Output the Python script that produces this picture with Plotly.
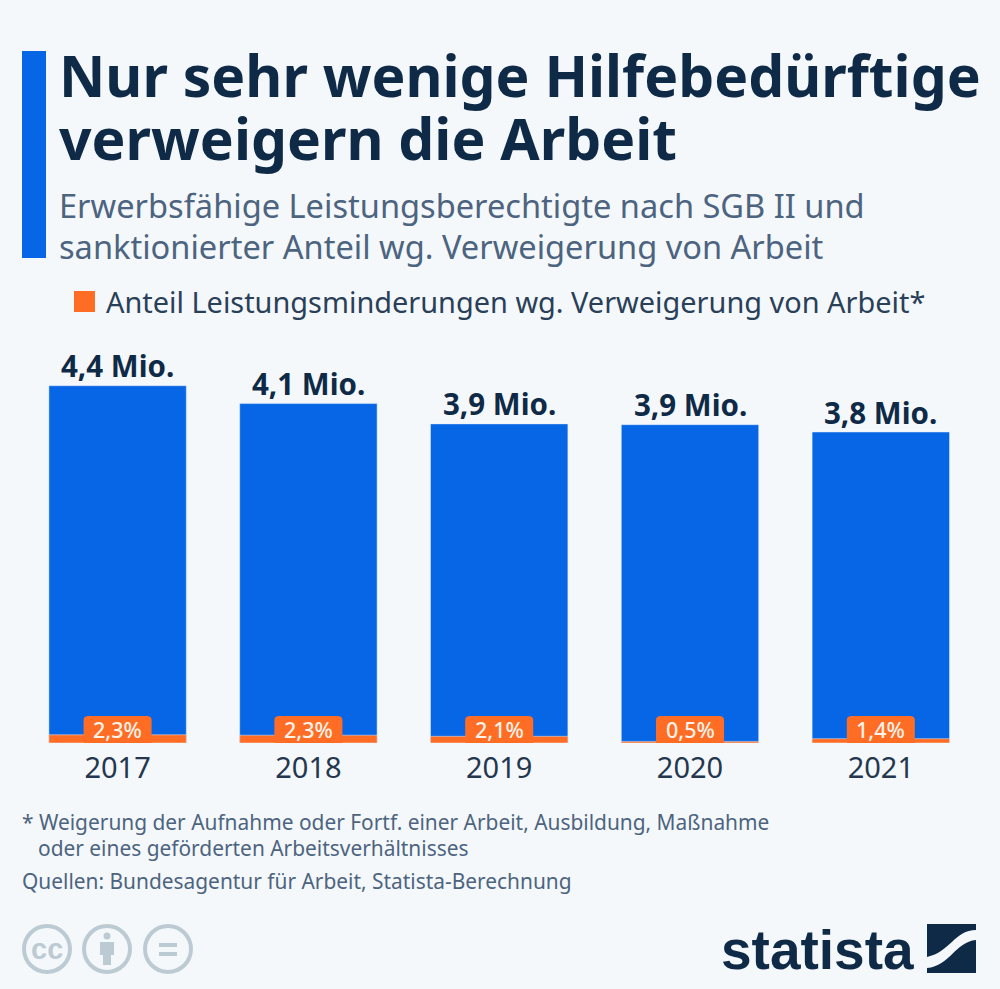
import plotly.graph_objects as go

years = ["2017", "2018", "2019", "2020", "2021"]
totals = [4.40, 4.18, 3.93, 3.92, 3.83]
total_labels = ["4,4 Mio.", "4,1 Mio.", "3,9 Mio.", "3,9 Mio.", "3,8 Mio."]
shares = [2.3, 2.3, 2.1, 0.5, 1.4]
share_labels = ["2,3%", "2,3%", "2,1%", "0,5%", "1,4%"]

W, H = 1000, 989
BG = "#f4f8fb"
BLUE = "#0666e6"
ORANGE = "#ff6d25"
NAVY = "#0f2a47"
SUB = "#4d6480"
GREY = "#bccbd3"
FONT = "Noto Sans"

def px(x):
    return x / W

def py(y):
    return 1 - y / H

sanctioned = [t * s / 100 for t, s in zip(totals, shares)]

fig = go.Figure()
fig.add_bar(x=years, y=totals, marker_color=BLUE, width=0.72, showlegend=False)
fig.add_bar(x=years, y=sanctioned, marker_color=ORANGE, width=0.72, showlegend=False)

shapes = []
annotations = []

def text(x, y, s, size, color, weight="normal", anchor="left", family=FONT):
    pad = 2 if anchor == "left" else 0
    annotations.append(dict(xref="paper", yref="paper", x=px(x - pad), y=py(y), text=s,
                            showarrow=False, xanchor=anchor, yanchor="middle",
                            font=dict(family=family, size=size, color=color, weight=weight)))

def rect(x0, y0, x1, y1, color):
    shapes.append(dict(type="rect", xref="paper", yref="paper", x0=px(x0), x1=px(x1),
                       y0=py(y0), y1=py(y1), fillcolor=color, line_width=0))

def circle(cx, cy, r, line, fill="rgba(0,0,0,0)", lw=4):
    shapes.append(dict(type="circle", xref="paper", yref="paper", x0=px(cx - r), x1=px(cx + r),
                       y0=py(cy + r), y1=py(cy - r), fillcolor=fill,
                       line=dict(color=line, width=lw)))

# Value labels above each bar
for i, (total, lab) in enumerate(zip(totals, total_labels)):
    annotations.append(dict(x=i, y=total, xref="x", yref="y", yshift=20, text=lab, showarrow=False,
                            yanchor="middle",
                            font=dict(family=FONT, size=29.5, color=NAVY, weight="bold")))

# Percent tabs anchored to each bar's base (category index on the x axis)
for i, lab in enumerate(share_labels):
    shapes.append(dict(type="path", xref="x", yref="y", xsizemode="pixel", ysizemode="pixel",
                       xanchor=i, yanchor=0, fillcolor=ORANGE, line_width=0,
                       path="M -34 0 L -34 23 Q -34 27 -29 27 L 29 27 Q 34 27 34 23 L 34 0 Z"))
    annotations.append(dict(x=i, y=0, xref="x", yref="y", yshift=14, text=lab, showarrow=False,
                            yanchor="middle",
                            font=dict(family=FONT, size=21.5, color="#fdf3ea", weight=500)))

# Header
rect(22, 51, 46, 258, BLUE)
text(59, 75, "Nur sehr wenige Hilfebedürftige", 57, NAVY, "bold")
text(59, 138, "verweigern die Arbeit", 57, NAVY, "bold")
text(59, 205, "Erwerbsfähige Leistungsberechtigte nach SGB II und", 32.6, SUB)
text(59, 246, "sanktionierter Anteil wg. Verweigerung von Arbeit", 32.6, SUB)

# Legend
rect(74, 291, 95, 312, ORANGE)
text(106, 301, "Anteil Leistungsminderungen wg. Verweigerung von Arbeit*", 28.9, "#2a3f58")

# Footnotes
text(22, 822, "* Weigerung der Aufnahme oder Fortf. einer Arbeit, Ausbildung, Maßnahme", 20.9, SUB)
text(38, 848, "oder eines geförderten Arbeitsverhältnisses", 20.9, SUB)
text(22, 881, "Quellen: Bundesagentur für Arbeit, Statista-Berechnung", 20.9, SUB)

# Licence icons
circle(47, 949, 23, GREY)
text(47, 949, "<b>cc</b>", 29, GREY, anchor="center", family="Liberation Sans")
circle(107, 949, 23, GREY)
circle(107, 936, 3.5, GREY, GREY, 0)
rect(100, 942, 114, 955, GREY)
rect(103, 955, 111, 965, GREY)
circle(168, 949, 23, GREY)
rect(159, 943, 177, 947, GREY)
rect(159, 952, 177, 956, GREY)

# Logo
text(817, 950, "statista", 55, NAVY, "bold", "center", "Liberation Sans")
shapes.append(dict(type="path", xref="paper", yref="paper", fillcolor=NAVY, line_width=0,
                   path=f"M {px(927)} {py(924)} L {px(976)} {py(924)} L {px(976)} {py(930)} "
                        f"C {px(955)} {py(930)} {px(950)} {py(952)} {px(927)} {py(957)} Z"))
shapes.append(dict(type="path", xref="paper", yref="paper", fillcolor=NAVY, line_width=0,
                   path=f"M {px(976)} {py(940)} L {px(976)} {py(973)} L {px(927)} {py(973)} L {px(927)} {py(968)} "
                        f"C {px(950)} {py(966)} {px(955)} {py(942)} {px(976)} {py(940)} Z"))

TOP, BASE = 340, 743
fig.update_layout(
    width=W, height=H, autosize=False,
    margin=dict(l=0, r=0, t=0, b=0),
    paper_bgcolor=BG, plot_bgcolor=BG,
    barmode="overlay",
    shapes=shapes, annotations=annotations,
    xaxis=dict(domain=[px(22.2), px(976.2)], type="category", range=[-0.5, 4.5],
               showgrid=False, zeroline=False, showline=False, ticks="", ticklabelstandoff=5,
               tickfont=dict(family=FONT, size=29, color="#24374f")),
    yaxis=dict(domain=[py(BASE), py(TOP)], range=[0, (BASE - TOP) / 81.2], visible=False),
)
fig.write_html("out.html", config=dict(displayModeBar=False),
               post_script="document.body.style.margin='0';document.documentElement.style.background='" + BG + "';")
